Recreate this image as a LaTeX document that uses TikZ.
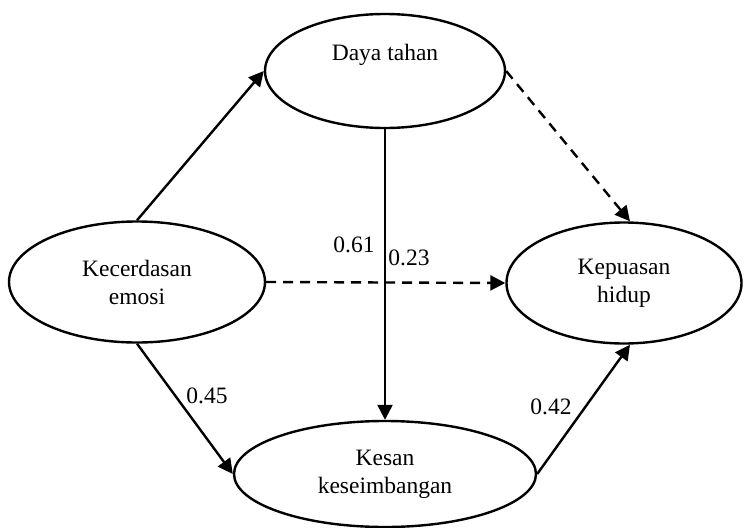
\documentclass[tikz,border=0pt]{standalone}
\usepackage{fontspec}
\setmainfont{Liberation Serif}
\usetikzlibrary{shapes.geometric,arrows.meta}
\begin{document}
\begin{tikzpicture}[x=1pt,y=-1pt,
  latent/.style={ellipse,draw,line width=2.4pt,inner sep=0pt,align=center,
    font=\fontsize{23.5}{28}\selectfont},
  path/.style={line width=2.4pt,-{Triangle[length=15pt,width=15pt]}},
  dpath/.style={path,dash pattern=on 10pt off 7pt},
  coef/.style={font=\fontsize{23.5}{28}\selectfont,inner sep=0pt}]
\useasboundingbox (0,0) rectangle (748,528);
\node[latent,minimum width=240pt,minimum height=114pt] (daya) at (385,71) {Daya tahan\\\strut};
\node[latent,minimum width=256pt,minimum height=121pt] (kec) at (137,282) {Kecerdasan\\emosi};
\node[latent,minimum width=235pt,minimum height=121pt] (kep) at (624,283) {Kepuasan\\hidup};
\node[latent,minimum width=302pt,minimum height=106pt] (kes) at (385,474) {Kesan\\keseimbangan};
\draw[path] (kec.north) -- (daya.west);
\draw[dpath] (daya.east) -- ([xshift=6pt]kep.north);
\draw[dpath] (kec.east) -- (kep.west);
\draw[path] (daya.south) -- (kes.north);
\draw[path] (kec.south) -- (kes.west);
\draw[path] (kes.east) -- ([xshift=6pt]kep.south);
\node[coef] (c61) at (354,245) {0.61};
\node[coef] (c23) at (409,258) {0.23};
\node[coef] (c45) at (207,396) {0.45};
\node[coef] (c42) at (551,407) {0.42};
\end{tikzpicture}
\end{document}
